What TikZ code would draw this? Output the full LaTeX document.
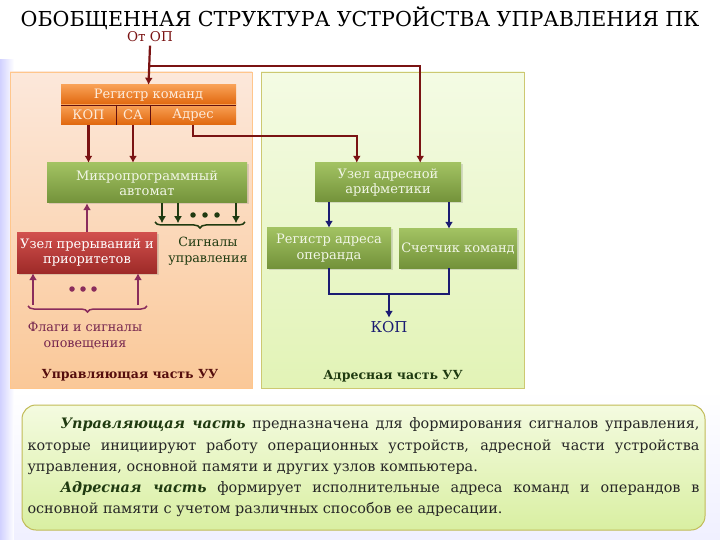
\documentclass[tikz,border=0pt]{standalone}
\usepackage{fontspec}
\setmainfont{DejaVu Serif}
\usetikzlibrary{arrows.meta,decorations.pathreplacing,shadows}

\definecolor{maroonln}{HTML}{7A1313}
\definecolor{plumln}{HTML}{8A2C5C}
\definecolor{dgreenln}{HTML}{1F3A10}
\definecolor{navyln}{HTML}{1B1B72}
\definecolor{regtop}{HTML}{F8A055}
\definecolor{regbot}{HTML}{E0660C}
\definecolor{regtxt}{HTML}{FDEBDB}
\definecolor{grtop}{HTML}{A2C262}
\definecolor{grbot}{HTML}{73923A}
\definecolor{grtxt}{HTML}{F1F6E6}
\definecolor{rdtop}{HTML}{D2514E}
\definecolor{rdbot}{HTML}{9E2A28}
\definecolor{leftop}{HTML}{FCE8DB}
\definecolor{lefbot}{HTML}{FAC898}
\definecolor{rigtop}{HTML}{F4FBE4}
\definecolor{rigbot}{HTML}{E2F3B6}
\definecolor{notetop}{HTML}{F4FBE0}
\definecolor{notebot}{HTML}{D9EFA2}

\begin{document}
\begin{tikzpicture}[x=1pt,y=-1pt,
    box/.style={inner sep=1pt, align=center, font=\fontsize{13}{15.5}\selectfont,
      drop shadow={shadow xshift=1.5pt, shadow yshift=-1.5pt, opacity=0.25}},
    obox/.style={inner sep=0pt, align=center, font=\fontsize{13}{15}\selectfont,
      top color=regtop, bottom color=regbot, text=regtxt, minimum height=20},
    gbox/.style={box, top color=grtop, bottom color=grbot, text=grtxt},
    rbox/.style={box, top color=rdtop, bottom color=rdbot, text=white},
    lbl/.style={align=center, font=\fontsize{12.7}{16}\selectfont},
    arr/.style={line width=2.2pt, -{Latex[length=7pt,width=8pt]}},
    brc/.style={line width=1.5pt, decorate, decoration={brace,mirror,amplitude=6pt}},
    dot/.style={circle, fill, inner sep=0pt, minimum size=5.5pt}
  ]
  \useasboundingbox (0,0) rectangle (720,540);
  % background
  \shade[left color=blue!18, right color=white] (0,60) rectangle (14,540);
  \shade[top color=white, bottom color=blue!6] (14,390) rectangle (720,540);

  % panels
  \draw[draw=orange!45, top color=leftop, bottom color=lefbot] (10,72) rectangle (252,388);
  \draw[draw=olive!45, top color=rigtop, bottom color=rigbot] (261,72) rectangle (524,388);

  % title and input
  \node (title) at (360,18) {\fontsize{20.6}{24}\selectfont ОБОБЩЕННАЯ СТРУКТУРА УСТРОЙСТВА УПРАВЛЕНИЯ ПК};
  \node[text=maroonln, font=\fontsize{13.5}{16}\selectfont] (fromop) at (150,37) {От ОП};

  % register of commands
  \node[obox, minimum width=175] (reghead) at (148.5,95) {Регистр команд};
  \node[obox, minimum width=55] (kop) at (88.5,115) {КОП};
  \node[obox, minimum width=34] (sa) at (133,115) {СА};
  \node[obox, minimum width=86] (adr) at (193,115) {Адрес};
  \draw[maroonln!80!black, line width=1.2pt] (reghead.south west) -- (reghead.south east);
  \draw[maroonln!80!black, line width=1.2pt] (kop.north east) -- (kop.south east);
  \draw[maroonln!80!black, line width=1.2pt] (sa.north east) -- (sa.south east);

  % control part
  \node[gbox, minimum width=200, minimum height=40] (micro) at (147,183) {Микропрограммный\\автомат};
  \node[rbox, minimum width=140, minimum height=41] (intr) at (87,252.5) {Узел прерываний и\\приоритетов};
  \node[lbl, text=dgreenln] (signals) at (208,251) {Сигналы\\управления};
  \node[lbl, text=plumln!85!black] (flags) at (85,336) {Флаги и сигналы\\оповещения};
  \node[lbl, text=maroonln!70!black, font=\fontsize{12.5}{15}\selectfont\bfseries] (ctlpart) at (130,375) {Управляющая часть УУ};

  % address part
  \node[gbox, minimum width=146, minimum height=39] (addrunit) at (388,182.5) {Узел адресной\\арифметики};
  \node[gbox, minimum width=124, minimum height=40] (rao) at (329,248) {Регистр адреса\\операнда};
  \node[gbox, minimum width=118, minimum height=39] (pc) at (458,248.5) {Счетчик команд};
  \node[lbl, text=navyln, font=\fontsize{15}{17}\selectfont] (kopout) at (389,327) {КОП};
  \node[lbl, text=dgreenln, font=\fontsize{12.5}{15}\selectfont\bfseries] (adrpart) at (393,376) {Адресная часть УУ};

  % maroon connectors
  \draw[maroonln, arr] (fromop.south) -- (reghead.north);
  \draw[maroonln, line width=2pt, -{Latex[length=7pt,width=8pt]}] (fromop.south |- 0,66) -| ([xshift=-41]addrunit.north east);
  \draw[maroonln, arr] (adr.south) -- ++(0,11) -| ([xshift=42]addrunit.north west);
  \draw[maroonln, arr] (kop.south) -- (kop.south |- micro.north);
  \draw[maroonln, arr] (sa.south) -- (sa.south |- micro.north);

  % control signals
  \foreach \x in {162,178,236}
    \draw[dgreenln, arr] (micro.south -| \x,0) -- ++(0,20);
  \foreach \x in {193,205,217}
    \node[dot, dgreenln] at (\x,215) {};
  \draw[dgreenln, brc] (155,222) -- (245,222);

  % interrupts
  \draw[plumln, arr] (intr.north) -- (intr.north |- micro.south);
  \foreach \x in {33,138}
    \draw[plumln, arr] (\x,305) -- (intr.south -| \x,0);
  \foreach \x in {72,83,94}
    \node[dot, plumln] at (\x,289) {};
  \draw[plumln, brc] (28,306) -- (147,306);

  % navy connectors
  \draw[navyln, arr] (addrunit.south -| rao.north) -- (rao.north);
  \draw[navyln, arr] (addrunit.south -| 449,0) -- ([xshift=-9]pc.north);
  \draw[navyln, line width=2.2pt] (rao.south) -- ++(0,26) -| ([xshift=-9]pc.south);
  \coordinate (join) at (389,294);
  \draw[navyln, arr] (join) -- (kopout.north);

  % description
  \node[draw=olive!55, line width=1pt, rounded corners=14pt, top color=notetop, bottom color=notebot,
        minimum width=683, minimum height=125, text width=672, inner sep=5pt, align=justify,
        font=\fontsize{14.4}{21.3}\selectfont, text=black!85] (note) at (363.5,467.5)
    {\tolerance=9999\hspace*{33pt}\textbf{\textit{\color{dgreenln}Управляющая часть}} предназначена для формирования сигналов управления,\linebreak
     которые инициируют работу операционных устройств, адресной части устройства\linebreak
     управления, основной памяти и других узлов компьютера.\par
     \hspace*{33pt}\textbf{\textit{\color{dgreenln}Адресная часть}} формирует исполнительные адреса команд и операндов в\linebreak
     основной памяти с учетом различных способов ее адресации.};
\end{tikzpicture}
\end{document}
